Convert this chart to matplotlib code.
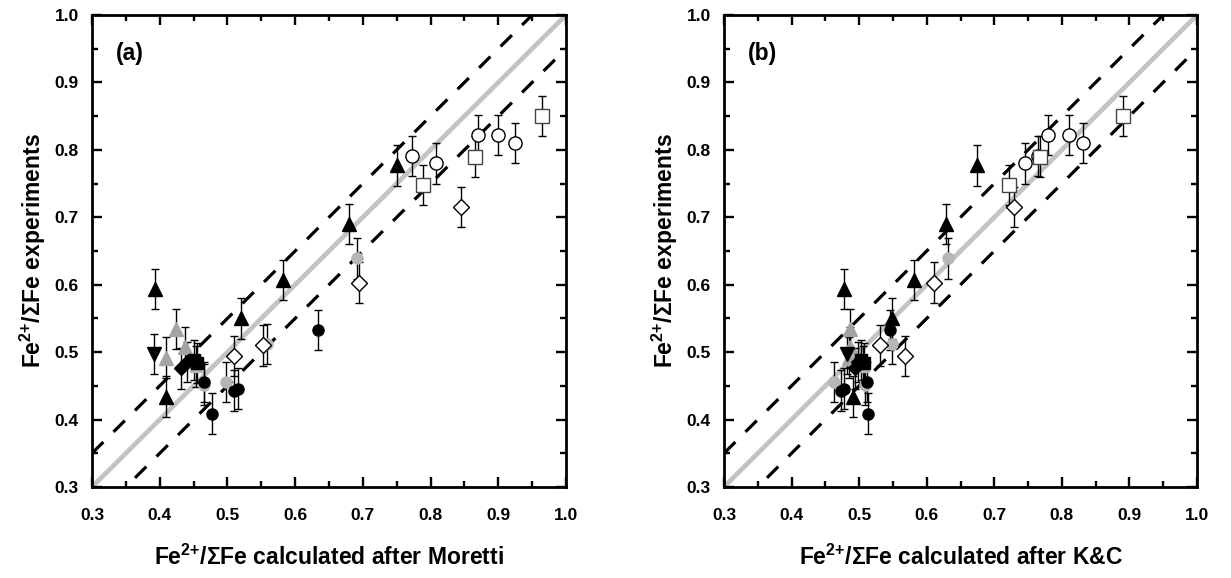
import matplotlib
matplotlib.use("Agg")
import matplotlib.pyplot as plt
from matplotlib.ticker import MultipleLocator

plt.rcParams['font.family'] = ['Liberation Sans', 'DejaVu Sans']
plt.rcParams['font.weight'] = 'bold'
plt.rcParams['mathtext.fontset'] = 'custom'
plt.rcParams['mathtext.rm'] = 'Liberation Sans:bold'
plt.rcParams['mathtext.bf'] = 'Liberation Sans:bold'
plt.rcParams['mathtext.it'] = 'Liberation Sans:bold'
plt.rcParams['mathtext.sf'] = 'Liberation Sans:bold'
plt.rcParams['mathtext.default'] = 'rm'

# ---- data (y = experiment, xa = Moretti, xb = K&C) ----
black_tri_y = [0.594, 0.434, 0.550, 0.607, 0.690, 0.777]
black_tri_xa = [0.393, 0.409, 0.520, 0.582, 0.679, 0.750]
black_tri_xb = [0.477, 0.491, 0.549, 0.581, 0.628, 0.675]

black_down_y = [0.497]
black_down_xa = [0.391]
black_down_xb = [0.482]

gray_tri_y = [0.492, 0.534, 0.508]
gray_tri_xa = [0.409, 0.424, 0.437]
gray_tri_xb = [0.485, 0.486, 0.487]

black_circ_y = [0.456, 0.409, 0.443, 0.446, 0.533]
black_circ_xa = [0.466, 0.477, 0.510, 0.516, 0.634]
black_circ_xb = [0.511, 0.513, 0.473, 0.477, 0.545]

gray_circ_y = [0.452, 0.456, 0.512, 0.639]
gray_circ_xa = [0.465, 0.498, 0.558, 0.692]
gray_circ_xb = [0.509, 0.463, 0.548, 0.631]

open_diam_y = [0.494, 0.510, 0.603, 0.715]
open_diam_xa = [0.510, 0.552, 0.695, 0.845]
open_diam_xb = [0.568, 0.531, 0.611, 0.729]

open_circ_y = [0.791, 0.780, 0.822, 0.822, 0.810]
open_circ_xa = [0.773, 0.808, 0.870, 0.900, 0.925]
open_circ_xb = [0.765, 0.746, 0.780, 0.810, 0.832]

open_sq_y = [0.748, 0.790, 0.850]
open_sq_xa = [0.789, 0.865, 0.965]
open_sq_xb = [0.722, 0.768, 0.890]

black_diam_y = [0.476, 0.485]
black_diam_xa = [0.431, 0.441]
black_diam_xb = [0.494, 0.499]

black_sq_y = [0.488, 0.484]
black_sq_xa = [0.450, 0.455]
black_sq_xb = [0.503, 0.507]

gray_sq_y = [0.479]
gray_sq_xa = [0.454]
gray_sq_xb = [0.505]

y_err = 0.03
tick_vals = [0.3, 0.4, 0.5, 0.6, 0.7, 0.8, 0.9, 1.0]
tick_labels = ['0.3', '0.4', '0.5', '0.6', '0.7', '0.8', '0.9', '1.0']
offset = 0.05

GRAY_T = '#a4a4a4'
GRAY_C = '#b6b6b6'

series = [
    # (y, key, marker, face, edge, size)
    (gray_circ_y, 'gray_circ', 'o', GRAY_C, GRAY_C, 8),
    (gray_sq_y, 'gray_sq', 's', GRAY_C, GRAY_C, 8),
    (gray_tri_y, 'gray_tri', '^', GRAY_T, GRAY_T, 9.5),
    (black_circ_y, 'black_circ', 'o', 'black', 'black', 8),
    (black_diam_y, 'black_diam', 'D', 'black', 'black', 7.5),
    (black_sq_y, 'black_sq', 's', 'black', 'black', 8),
    (black_tri_y, 'black_tri', '^', 'black', 'black', 9.5),
    (black_down_y, 'black_down', 'v', 'black', 'black', 9.5),
    (open_diam_y, 'open_diam', 'D', 'white', 'black', 8.5),
    (open_circ_y, 'open_circ', 'o', 'white', 'black', 9.5),
    (open_sq_y, 'open_sq', 's', 'white', '#444444', 10),
]
xs = {
    'a': dict(gray_circ=gray_circ_xa, gray_sq=gray_sq_xa, gray_tri=gray_tri_xa,
              black_circ=black_circ_xa, black_diam=black_diam_xa, black_sq=black_sq_xa,
              black_tri=black_tri_xa, black_down=black_down_xa, open_diam=open_diam_xa,
              open_circ=open_circ_xa, open_sq=open_sq_xa),
    'b': dict(gray_circ=gray_circ_xb, gray_sq=gray_sq_xb, gray_tri=gray_tri_xb,
              black_circ=black_circ_xb, black_diam=black_diam_xb, black_sq=black_sq_xb,
              black_tri=black_tri_xb, black_down=black_down_xb, open_diam=open_diam_xb,
              open_circ=open_circ_xb, open_sq=open_sq_xb),
}

fig = plt.figure(figsize=(12.31, 5.78), dpi=100)
ax_a = fig.add_axes([92/1231, 1 - 487/578, 474/1231, 472/578])
ax_b = fig.add_axes([724/1231, 1 - 487/578, 473/1231, 472/578])

prefix = r'$Fe^{2{+}}/\Sigma Fe$'
ylabel = prefix + ' experiments'
for ax, key, lab, xlabel in [(ax_a, 'a', '(a)', prefix + ' calculated after Moretti'),
                              (ax_b, 'b', '(b)', prefix + ' calculated after K&C')]:
    line = [0.3, 1.0]
    ax.plot(line, line, color='#c3c3c3', lw=3.4, solid_capstyle='butt', zorder=1)
    ax.plot(line, [v + offset for v in line], color='black', lw=2.3, dashes=(5, 4.5), zorder=1)
    ax.plot(line, [v - offset for v in line], color='black', lw=2.3, dashes=(5, 4.5), zorder=1)
    for y, name, m, fc, ec, ms in series:
        x = xs[key][name]
        ax.errorbar(x, y, yerr=y_err, fmt='none', ecolor='black', elinewidth=1.0,
                    capsize=2.8, capthick=1.0, zorder=2)
        ax.plot(x, y, linestyle='none', marker=m, markerfacecolor=fc,
                markeredgecolor=ec, markersize=ms, markeredgewidth=1.0, zorder=3)
    ax.set_xlim(0.3, 1.0)
    ax.set_ylim(0.3, 1.0)
    ax.set_xticks(tick_vals)
    ax.set_xticklabels(tick_labels)
    ax.set_yticks(tick_vals)
    ax.set_yticklabels(tick_labels)
    ax.xaxis.set_minor_locator(MultipleLocator(0.05))
    ax.yaxis.set_minor_locator(MultipleLocator(0.05))
    ax.tick_params(which='both', direction='in', top=True, right=True,
                   labelsize=12.5, width=1.7)
    ax.tick_params(axis='x', which='both', pad=15)
    ax.tick_params(axis='y', which='both', pad=9.5)
    ax.tick_params(which='major', length=7)
    ax.tick_params(which='minor', length=4.5)
    for lbl in ax.get_xticklabels() + ax.get_yticklabels():
        lbl.set_fontweight('bold')
    for s in ax.spines.values():
        s.set_linewidth(2.0)
    ax.set_xlabel(xlabel, fontsize=16.5, fontweight='bold', labelpad=16)
    ax.set_ylabel(ylabel, fontsize=16.5, fontweight='bold', labelpad=5)
    ax.text(0.335, 0.933, lab, fontsize=16.5, fontweight='bold', ha='left', va='baseline')

fig.savefig('out.png', dpi=100)
